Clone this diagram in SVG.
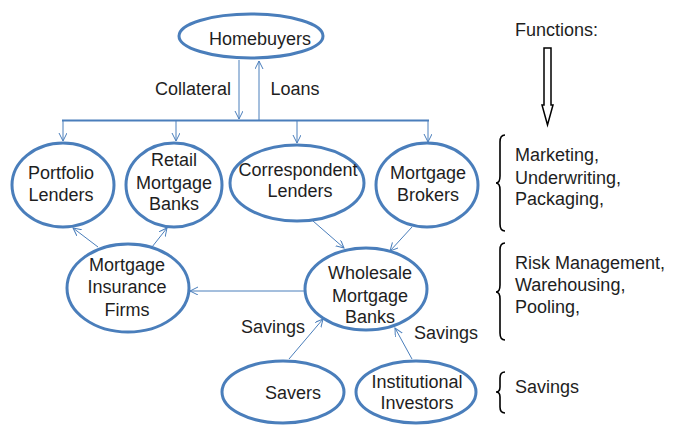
<svg xmlns="http://www.w3.org/2000/svg" width="682" height="425" viewBox="0 0 682 425">
<style>
.n ellipse{fill:#fff;stroke:#4a7ebb;stroke-width:3}
text{font-family:"Liberation Sans",Arial,sans-serif;font-size:18px;fill:#1e1e1e}
.c{text-anchor:middle}
.k{stroke:#4a7ebb;stroke-width:1;fill:none}
.br{stroke:#000;stroke-width:1.6;fill:none}
</style>
<defs>
<marker id="a" markerUnits="userSpaceOnUse" markerWidth="10" markerHeight="10" refX="8" refY="4" orient="auto">
<path d="M0,0 L8,4 L0,8" fill="none" stroke="#4a7ebb" stroke-width="1"/>
</marker>
</defs>
<g id="connectors">
<line class="k" x1="239" y1="60" x2="239" y2="119" marker-end="url(#a)" stroke="#7aa2d6"/>
<line class="k" x1="259" y1="120" x2="259" y2="61" marker-end="url(#a)" stroke="#7aa2d6"/>
<line x1="62" y1="120.5" x2="429" y2="120.5" stroke="#4a7ebb" stroke-width="2.2"/>
<line class="k" x1="63" y1="121" x2="63" y2="141" marker-end="url(#a)"/>
<line class="k" x1="176" y1="121" x2="176" y2="141" marker-end="url(#a)"/>
<line class="k" x1="297" y1="121" x2="297" y2="143" marker-end="url(#a)"/>
<line class="k" x1="428" y1="121" x2="428" y2="142" marker-end="url(#a)"/>
<line class="k" x1="98" y1="247" x2="73" y2="228" marker-end="url(#a)"/>
<line class="k" x1="152" y1="247" x2="167" y2="228" marker-end="url(#a)"/>
<line class="k" x1="313" y1="221" x2="344" y2="248" marker-end="url(#a)"/>
<line class="k" x1="412" y1="227" x2="390" y2="251" marker-end="url(#a)"/>
<line class="k" x1="305" y1="291" x2="190" y2="291" marker-end="url(#a)"/>
<line class="k" x1="289" y1="359" x2="323" y2="319" marker-end="url(#a)"/>
<line class="k" x1="412" y1="359" x2="395" y2="328" marker-end="url(#a)"/>
</g>
<g id="homebuyers" class="n"><ellipse cx="251" cy="36" rx="72" ry="22"/><text class="c" x="260" y="45">Homebuyers</text></g>
<g id="portfolio" class="n"><ellipse cx="63" cy="185" rx="51" ry="42"/><text class="c" x="61" y="179">Portfolio</text><text class="c" x="61" y="201">Lenders</text></g>
<g id="retail" class="n"><ellipse cx="174" cy="185" rx="48" ry="42"/><text class="c" x="174" y="166">Retail</text><text class="c" x="174" y="189">Mortgage</text><text class="c" x="174" y="210">Banks</text></g>
<g id="correspondent" class="n"><ellipse cx="297" cy="183" rx="67" ry="38"/><text class="c" x="298" y="176">Correspondent</text><text class="c" x="300" y="197">Lenders</text></g>
<g id="brokers" class="n"><ellipse cx="427" cy="185" rx="51" ry="42"/><text class="c" x="428" y="179">Mortgage</text><text class="c" x="428" y="201">Brokers</text></g>
<g id="insurance" class="n"><ellipse cx="128" cy="288" rx="61" ry="44"/><text class="c" x="127" y="271">Mortgage</text><text class="c" x="127" y="293">Insurance</text><text class="c" x="127" y="316">Firms</text></g>
<g id="wholesale" class="n"><ellipse cx="366" cy="289" rx="61" ry="41"/><text class="c" x="370" y="279">Wholesale</text><text class="c" x="370" y="302">Mortgage</text><text class="c" x="370" y="323">Banks</text></g>
<g id="savers" class="n"><ellipse cx="283" cy="392" rx="61" ry="31"/><text class="c" x="293" y="399">Savers</text></g>
<g id="institutional" class="n"><ellipse cx="416" cy="392" rx="60" ry="31"/><text class="c" x="417" y="388">Institutional</text><text class="c" x="417" y="409">Investors</text></g>
<g id="labels">
<text class="c" x="193" y="95">Collateral</text>
<text class="c" x="295" y="95">Loans</text>
<text class="c" x="273" y="333">Savings</text>
<text class="c" x="446" y="339">Savings</text>
</g>
<g id="functions">
<text x="515" y="36">Functions:</text>
<path d="M544,48 L551,48 L551,105 L553,105 L547.5,125 L542,105 L544,105 Z" fill="#fff" stroke="#000" stroke-width="1.5"/>
<path class="br" d="M505,135 Q500,135 500,142 L500,176 Q500,183 496,183 Q500,183 500,190 L500,224 Q500,231 505,231"/>
<path class="br" d="M505,243 Q500,243 500,250 L500,285 Q500,292 496,292 Q500,292 500,299 L500,333 Q500,340 505,340"/>
<path class="br" d="M505,372 Q500,372 500,378 L500,387 Q500,392 496,392 Q500,392 500,397 L500,407 Q500,413 505,413"/>
<text x="515" y="161">Marketing,</text>
<text x="515" y="184">Underwriting,</text>
<text x="515" y="205">Packaging,</text>
<text x="515" y="269">Risk Management,</text>
<text x="515" y="291">Warehousing,</text>
<text x="515" y="313">Pooling,</text>
<text x="515" y="393">Savings</text>
</g>
</svg>
